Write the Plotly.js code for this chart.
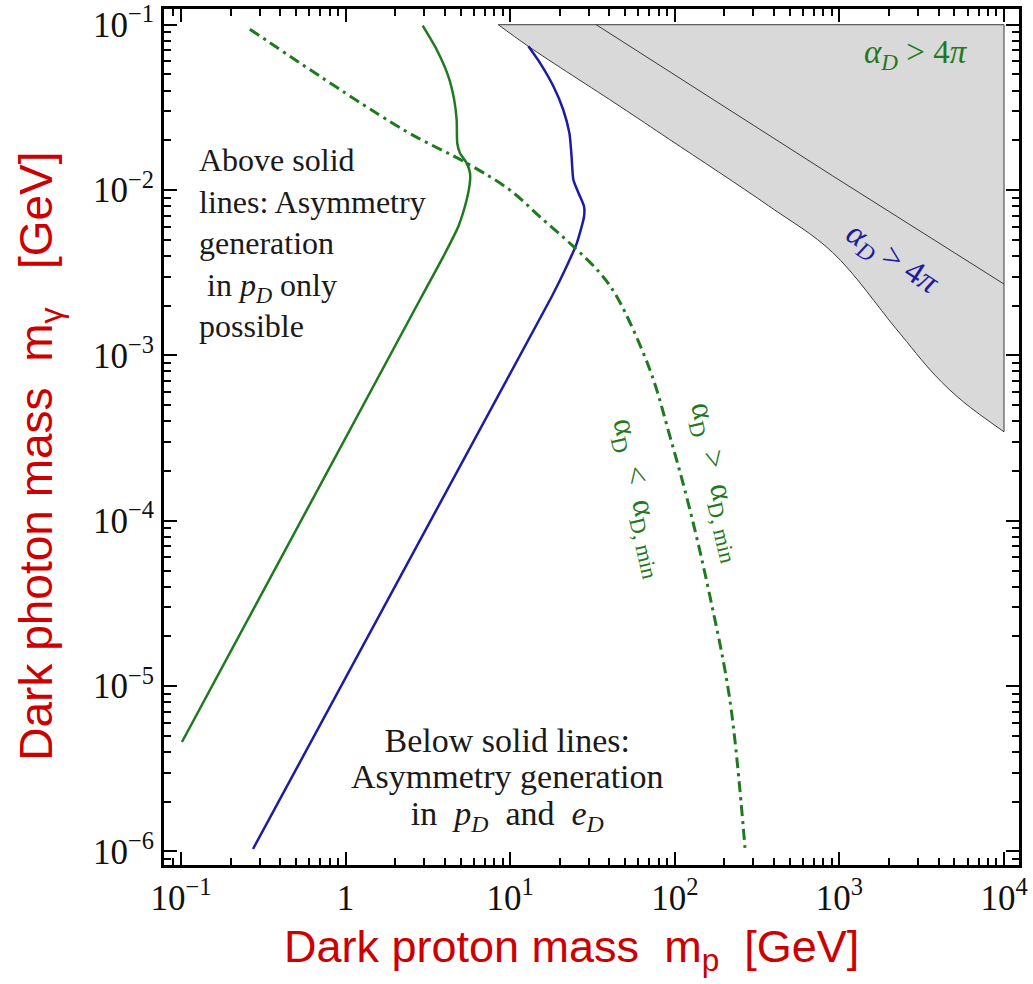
<!DOCTYPE html>
<html>
<head>
<meta charset="utf-8">
<script src="https://cdn.plot.ly/plotly-3.0.1.min.js"></script>
<style>
  html, body { margin: 0; padding: 0; background: #ffffff; }
  #chart { width: 1033px; height: 984px; }
</style>
</head>
<body>
<div id="chart"></div>
<script>
// Dark photon mass vs. dark proton mass, both in GeV, log-log.

// Green solid line: above it, asymmetry generation in p_D only
const greenMp = [0.1014, 2.90, 3.93, 4.84, 5.44, 5.70, 5.70, 5.44, 4.95, 4.77, 4.73, 4.57, 4.21, 3.58, 2.94];
const greenMg = [4.59e-6, 0.00227, 0.00397, 0.00602, 0.00873, 0.01128, 0.01267, 0.01456, 0.01675, 0.0192, 0.0266, 0.0351, 0.0487, 0.0706, 0.0986];

// Blue solid line
const blueMp = [0.274, 17.9, 22.0, 25.4, 28.1, 28.1, 26.0, 24.2, 23.6, 22.9, 21.0, 18.3, 15.2, 12.9];
const blueMg = [1.035e-6, 0.00227, 0.00345, 0.00478, 0.00692, 0.00796, 0.0096, 0.01154, 0.0160, 0.0221, 0.0306, 0.0424, 0.0586, 0.074];

// Green dash-dot line: alpha_D = alpha_D,min
const minMp = [0.262, 2.24, 5.44, 9.97, 15.9, 24.2, 35.1, 44.4, 70.6, 93.5, 123.7, 163.6, 216, 267];
const minMg = [0.094, 0.0232, 0.01456, 0.00999, 0.0066, 0.00456, 0.00315, 0.00227, 8.18e-4, 3.23e-4, 1.16e-4, 3.48e-5, 8.26e-6, 1.05e-6];

// Lower edge of the shaded alpha_D > 4pi region (blue case)
const edgeMp = [8.47, 12.9, 46.4, 93.2, 372, 908, 2208, 3808, 5659, 10000];
const edgeMg = [0.1, 0.074, 0.0321, 0.0202, 0.00802, 0.0042, 0.00145, 7.59e-4, 5.24e-4, 3.45e-4];

// Edge of the alpha_D > 4pi region for the green case
const edge2Mp = [33.3, 908, 10000];
const edge2Mg = [0.1, 0.0122, 0.0027];

// Axis tick labels
const xTickVals = [0.1, 1, 10, 100, 1000, 10000];
const xTickText = ['10<sup>\u22121</sup>', '1', '10<sup>1</sup>', '10<sup>2</sup>', '10<sup>3</sup>', '10<sup>4</sup>'];
const yTickVals = [1e-6, 1e-5, 1e-4, 1e-3, 1e-2, 1e-1];
const yTickText = ['10<sup>\u22126</sup>', '10<sup>\u22125</sup>', '10<sup>\u22124</sup>', '10<sup>\u22123</sup>', '10<sup>\u22122</sup>', '10<sup>\u22121</sup>'];

const GREEN = '#1f7a1f';
const BLUE = '#1b1ba6';
const RED = '#cc0000';
const EDGE = '#3a3a3a';
const SERIF = 'Liberation Serif, Times New Roman, serif';
const SANS = 'Liberation Sans, Arial, sans-serif';

// minor tick positions 2..9 within each decade
function minorTicks(k0, k1) {
  const out = [];
  for (let k = k0; k <= k1; k++) {
    for (let m = 2; m <= 9; m++) out.push(m * Math.pow(10, k));
  }
  return out;
}

const last = edgeMp.length - 1;
// top and right sides of the shaded region
const frameX = [edgeMp[0], edgeMp[last], edgeMp[last]];
const frameY = [edgeMg[0], edgeMg[0], edgeMg[last]];

const traces = [
  {
    x: frameX, y: frameY, type: 'scatter', mode: 'lines',
    line: { color: EDGE, width: 1 }, hoverinfo: 'skip'
  },
  {
    x: edgeMp, y: edgeMg, type: 'scatter', mode: 'lines',
    fill: 'tonexty', fillcolor: '#d9d9d9',
    line: { color: EDGE, width: 1, shape: 'spline', smoothing: 1 }, hoverinfo: 'skip'
  },
  {
    x: greenMp, y: greenMg, type: 'scatter', mode: 'lines',
    line: { color: GREEN, width: 2.5, shape: 'spline', smoothing: 0.6 }
  },
  {
    x: blueMp, y: blueMg, type: 'scatter', mode: 'lines',
    line: { color: BLUE, width: 2.5, shape: 'spline', smoothing: 0.6 }
  },
  {
    x: minMp, y: minMg, type: 'scatter', mode: 'lines',
    line: { color: GREEN, width: 3, dash: '11px,5px,3px,5px', shape: 'spline', smoothing: 1 }
  },
  {
    // drawn on the mirrored axes so the top and right frames get their own ticks
    x: edge2Mp, y: edge2Mg, xaxis: 'x2', yaxis: 'y2', type: 'scatter', mode: 'lines',
    line: { color: EDGE, width: 1 }, hoverinfo: 'skip'
  }
];

const xRange = [-1.103, 4.091];
const yRange = [-6.082, -0.905];

function minorSpec(vals) {
  return { tickmode: 'array', tickvals: vals, ticks: 'inside', ticklen: 7, tickwidth: 2, tickcolor: '#000', showgrid: false };
}

const axisCommon = {
  type: 'log',
  tickmode: 'array',
  ticks: 'inside',
  ticklen: 13,
  tickwidth: 2,
  tickcolor: '#000',
  showline: true,
  linewidth: 3,
  linecolor: '#000',
  showgrid: false,
  zeroline: false,
  tickfont: { family: SERIF, size: 35, color: '#111' }
};

const layout = {
  width: 1033,
  height: 984,
  margin: { l: 164, r: 14, t: 9, b: 119 },
  paper_bgcolor: '#ffffff',
  plot_bgcolor: '#ffffff',
  showlegend: false,
  xaxis: Object.assign({}, axisCommon, {
    range: xRange, tickvals: xTickVals, ticktext: xTickText,
    minor: minorSpec(minorTicks(-2, 4))
  }),
  yaxis: Object.assign({}, axisCommon, {
    range: yRange, tickvals: yTickVals, ticktext: yTickText,
    minor: minorSpec(minorTicks(-7, -1))
  }),
  xaxis2: Object.assign({}, axisCommon, {
    overlaying: 'x', side: 'top', anchor: 'y',
    range: xRange, tickvals: xTickVals, showticklabels: false,
    minor: minorSpec(minorTicks(-2, 4))
  }),
  yaxis2: Object.assign({}, axisCommon, {
    overlaying: 'y', side: 'right', anchor: 'x',
    range: yRange, tickvals: yTickVals, showticklabels: false,
    minor: minorSpec(minorTicks(-7, -1))
  }),
  annotations: [
    {
      text: 'Dark proton mass  m<sub>p</sub>  [GeV]',
      xref: 'paper', yref: 'paper', x: 0.477, y: -0.099,
      xanchor: 'center', yanchor: 'middle', showarrow: false,
      font: { family: SANS, size: 45, color: RED }
    },
    {
      text: 'Dark photon mass  m<sub>\u03b3</sub>   [GeV]',
      xref: 'paper', yref: 'paper', x: -0.145, y: 0.477, textangle: -90,
      xanchor: 'center', yanchor: 'middle', showarrow: false,
      font: { family: SANS, size: 46, color: RED }
    },
    {
      text: 'Above solid<br>lines: Asymmetry<br>generation<br>\u00a0in <i>p</i><sub><i>D</i></sub> only<br>possible',
      xref: 'paper', yref: 'paper', x: 0.0386, y: 0.7266,
      xanchor: 'left', yanchor: 'middle', align: 'left', showarrow: false,
      font: { family: SERIF, size: 32, color: '#1a1a1a' }
    },
    {
      text: '<span style="font-size:34px">Below solid lines:</span><br>' +
            '<span style="font-size:34px">Asymmetry generation</span><br>' +
            '<span style="font-size:34px">in\u00a0 <i>p</i><sub><i>D</i></sub>\u00a0 and\u00a0 <i>e</i><sub><i>D</i></sub></span>',
      xref: 'paper', yref: 'paper', x: 0.4012, y: 0.0995,
      xanchor: 'center', yanchor: 'middle', align: 'center', showarrow: false,
      font: { family: SERIF, size: 28, color: '#1a1a1a' }
    },
    {
      text: '<i>\u03b1</i><sub><i>D</i></sub> &gt; 4<i>\u03c0</i>',
      xref: 'paper', yref: 'paper', x: 0.879, y: 0.9474,
      xanchor: 'center', yanchor: 'middle', showarrow: false,
      font: { family: SERIF, size: 33, color: GREEN }
    },
    {
      text: '<i>\u03b1</i><sub><i>D</i></sub> &gt; 4<i>\u03c0</i>',
      xref: 'paper', yref: 'paper', x: 0.851, y: 0.7068, textangle: 33,
      xanchor: 'center', yanchor: 'middle', showarrow: false,
      font: { family: SERIF, size: 33, color: BLUE }
    },
    {
      text: '\u03b1<sub>D</sub>\u00a0 &lt;\u00a0 \u03b1<sub>D, min</sub>',
      xref: 'paper', yref: 'paper', x: 0.557, y: 0.4287, textangle: 77,
      xanchor: 'center', yanchor: 'middle', showarrow: false,
      font: { family: SERIF, size: 32, color: GREEN }
    },
    {
      text: '\u03b1<sub>D</sub>\u00a0 &gt;\u00a0 \u03b1<sub>D, min</sub>',
      xref: 'paper', yref: 'paper', x: 0.648, y: 0.4474, textangle: 77,
      xanchor: 'center', yanchor: 'middle', showarrow: false,
      font: { family: SERIF, size: 32, color: GREEN }
    }
  ]
};

Plotly.newPlot('chart', traces, layout, { staticPlot: true, displayModeBar: false });
</script>
</body>
</html>
